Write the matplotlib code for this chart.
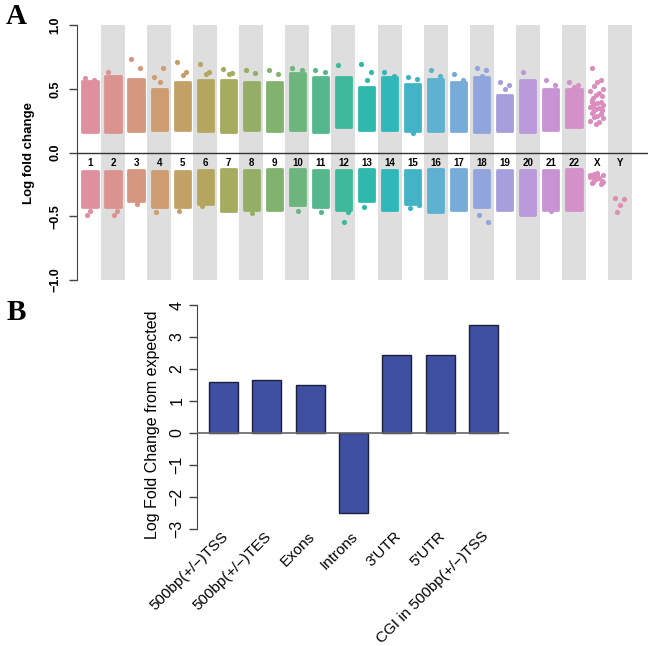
import numpy as np
import matplotlib
matplotlib.use("Agg")
import matplotlib.pyplot as plt
import matplotlib.transforms as mtransforms

plt.rcParams["font.family"] = ["Liberation Sans", "DejaVu Sans"]

# ---- panel A: per-chromosome log fold change clouds ----
chroms = [str(i) for i in range(1, 23)] + ["X", "Y"]

# dense body of each cloud (visual extent)
up_lo = [0.16, 0.16, 0.17, 0.18, 0.18, 0.17, 0.16, 0.18, 0.17, 0.18, 0.16, 0.20,
         0.18, 0.18, 0.17, 0.17, 0.17, 0.16, 0.17, 0.16, 0.18, 0.20, np.nan, np.nan]
up_hi = [0.56, 0.60, 0.58, 0.50, 0.55, 0.57, 0.57, 0.55, 0.55, 0.62, 0.59, 0.59,
         0.51, 0.59, 0.54, 0.58, 0.55, 0.59, 0.45, 0.57, 0.50, 0.50, np.nan, np.nan]
dn_hi = [-0.145, -0.145, -0.14, -0.145, -0.145, -0.14, -0.13, -0.14, -0.13, -0.13, -0.14, -0.14,
         -0.13, -0.14, -0.14, -0.13, -0.13, -0.14, -0.14, -0.14, -0.14, -0.13, np.nan, np.nan]
dn_lo = [-0.43, -0.43, -0.38, -0.43, -0.43, -0.40, -0.46, -0.45, -0.45, -0.41, -0.43, -0.45,
         -0.38, -0.45, -0.40, -0.47, -0.45, -0.43, -0.45, -0.49, -0.45, -0.45, np.nan, np.nan]

# individual points outside the dense body
up_out = [
    [0.587, 0.571], [0.632], [0.734, 0.66], [0.592, 0.66, 0.55], [0.71, 0.634, 0.61],
    [0.697, 0.632, 0.613], [0.658, 0.624, 0.613], [0.645, 0.624], [0.645, 0.613],
    [0.663, 0.645], [0.645, 0.635], [0.684], [0.692, 0.632, 0.566], [0.632, 0.60],
    [0.592, 0.574, 0.15], [0.645, 0.60], [0.613, 0.57], [0.66, 0.645, 0.60],
    [0.553, 0.526, 0.50], [0.632], [0.566, 0.53], [0.553, 0.526, 0.51],
    [0.666, 0.566, 0.55, 0.52, 0.50, 0.48, 0.47, 0.45, 0.44, 0.43, 0.41, 0.40, 0.39,
     0.38, 0.37, 0.36, 0.35, 0.34, 0.33, 0.32, 0.31, 0.30, 0.29, 0.28, 0.27, 0.25,
     0.24, 0.22, 0.33, 0.36, 0.40, 0.30],
    [],
]
dn_out = [
    [-0.455, -0.487], [-0.461, -0.487], [-0.403], [-0.466], [-0.461], [-0.416], [],
    [-0.474], [], [-0.455], [-0.466], [-0.466, -0.547], [-0.429], [], [-0.434, -0.408],
    [], [], [-0.487, -0.547], [], [], [-0.461], [],
    [-0.16, -0.17, -0.18, -0.19, -0.20, -0.21, -0.22, -0.23, -0.24, -0.25, -0.165,
     -0.20, -0.23, -0.175],
    [-0.36, -0.366, -0.408, -0.466],
]

# ---- panel B: genomic feature enrichment ----
features = ["500bp(+/\u2212)TSS", "500bp(+/\u2212)TES", "Exons", "Introns",
            "3'UTR", "5'UTR", "CGI in 500bp(+/\u2212)TSS"]
fold_change = [1.59, 1.66, 1.50, -2.50, 2.44, 2.44, 3.37]


def hcl_hex(h, c=50, l=68):
    """polar LUV -> sRGB hex (R's hcl())"""
    xn, yn, zn = 0.95047, 1.0, 1.08883
    un = 4 * xn / (xn + 15 * yn + 3 * zn)
    vn = 9 * yn / (xn + 15 * yn + 3 * zn)
    u = c * np.cos(np.radians(h))
    v = c * np.sin(np.radians(h))
    y = yn * ((l + 16) / 116) ** 3
    up = u / (13 * l) + un
    vp = v / (13 * l) + vn
    x = y * 9 * up / (4 * vp)
    z = y * (12 - 3 * up - 20 * vp) / (4 * vp)
    m = np.array([[3.2406, -1.5372, -0.4986],
                  [-0.9689, 1.8758, 0.0415],
                  [0.0557, -0.2040, 1.0570]])
    lin = m @ np.array([x, y, z])
    rgb = np.where(lin > 0.0031308, 1.055 * np.abs(lin) ** (1 / 2.4) - 0.055, 12.92 * lin)
    rgb = np.clip(rgb, 0, 1)
    return "#" + "".join(f"{int(round(ch * 255)):02x}" for ch in rgb)


fig = plt.figure(figsize=(6.5, 6.46), dpi=100)

# ---------------- panel A ----------------
axA = fig.add_axes([77 / 650, 1 - 280 / 646, 571 / 650, 255 / 646])
axA.set_xlim(0.436, 25.215)
axA.set_ylim(-1.0, 1.0)

xpos = np.arange(1, len(chroms) + 1)
for i in xpos:
    if i % 2 == 0:
        axA.axvspan(i - 0.52, i + 0.52, color="#dedede", lw=0, zorder=0)

jit = [-0.22, 0.18, 0.02, -0.12, 0.27, -0.29, 0.10, -0.05, 0.22, -0.18]
for k, x in enumerate(xpos):
    col = hcl_hex(15 * k)
    if not np.isnan(up_lo[k]):
        axA.bar(x, up_hi[k] - up_lo[k], bottom=up_lo[k], width=0.66, color=col,
                edgecolor=col, linewidth=2, joinstyle="round", zorder=2)
    if not np.isnan(dn_hi[k]):
        axA.bar(x, dn_lo[k] - dn_hi[k], bottom=dn_hi[k], width=0.66, color=col,
                edgecolor=col, linewidth=2, joinstyle="round", zorder=2)
    pts = up_out[k] + dn_out[k]
    if pts:
        xs = [x + jit[j % len(jit)] for j in range(len(pts))]
        axA.scatter(xs, pts, s=14, color=col, lw=0, zorder=3)
    axA.text(x, -0.085, chroms[k], ha="center", va="center", fontsize=7,
             fontweight="bold")

axA.axhline(0, color="#333333", lw=1, zorder=4)
for side in ["top", "right", "bottom"]:
    axA.spines[side].set_visible(False)
axA.spines["left"].set_color("#444444")
axA.set_xticks([])
axA.set_yticks([-1, -0.5, 0, 0.5, 1])
axA.set_yticklabels(["\u22121.0", "\u22120.5", "0.0", "0.5", "1.0"], rotation=90,
                    va="center", fontsize=9, fontweight="bold")
axA.tick_params(axis="y", length=5.5, width=1, color="#444444", pad=6)
axA.set_ylabel("Log fold change", fontsize=9.5, fontweight="bold")
axA.yaxis.set_label_coords(-0.074, 0.5)

# ---------------- panel B ----------------
axB = fig.add_axes([197 / 650, 1 - 529 / 646, 312 / 650, 224 / 646])
axB.set_xlim(-0.61, 6.59)
axB.set_ylim(-3, 4)
pos = np.arange(len(features))
axB.bar(pos, fold_change, width=0.67, color="#3f50a3", edgecolor="#1c1f3c",
        linewidth=1, zorder=2)
axB.axhline(0, color="#666666", lw=1.2, zorder=3)
for side in ["top", "right", "bottom"]:
    axB.spines[side].set_visible(False)
axB.spines["left"].set_color("#444444")
axB.set_yticks(range(-3, 5))
axB.set_yticklabels([f"{v}".replace("-", "\u2212") for v in range(-3, 5)],
                    rotation=90, va="center", fontsize=11.5)
axB.tick_params(axis="y", length=6, width=1, color="#444444", pad=3)
axB.set_xticks([])

# rotated category labels, right end just under each bar
trans = mtransforms.blended_transform_factory(axB.transData, axB.transAxes)
for p, lab in zip(pos, features):
    axB.text(p + 0.06, -0.022, lab, transform=trans, rotation=45, ha="right",
             va="center", rotation_mode="anchor", fontsize=11, clip_on=False)

axB.set_ylabel("Log Fold Change from expected", fontsize=11.5)
axB.yaxis.set_label_coords(-0.118, 0.464)

# panel letters
fig.text(16 / 650, 1 - 17 / 646, "A", fontsize=21, fontweight="bold",
         family="Liberation Serif", ha="center", va="center")
fig.text(16 / 650, 1 - 313 / 646, "B", fontsize=21, fontweight="bold",
         family="Liberation Serif", ha="center", va="center")

fig.savefig("out.png", dpi=100)
